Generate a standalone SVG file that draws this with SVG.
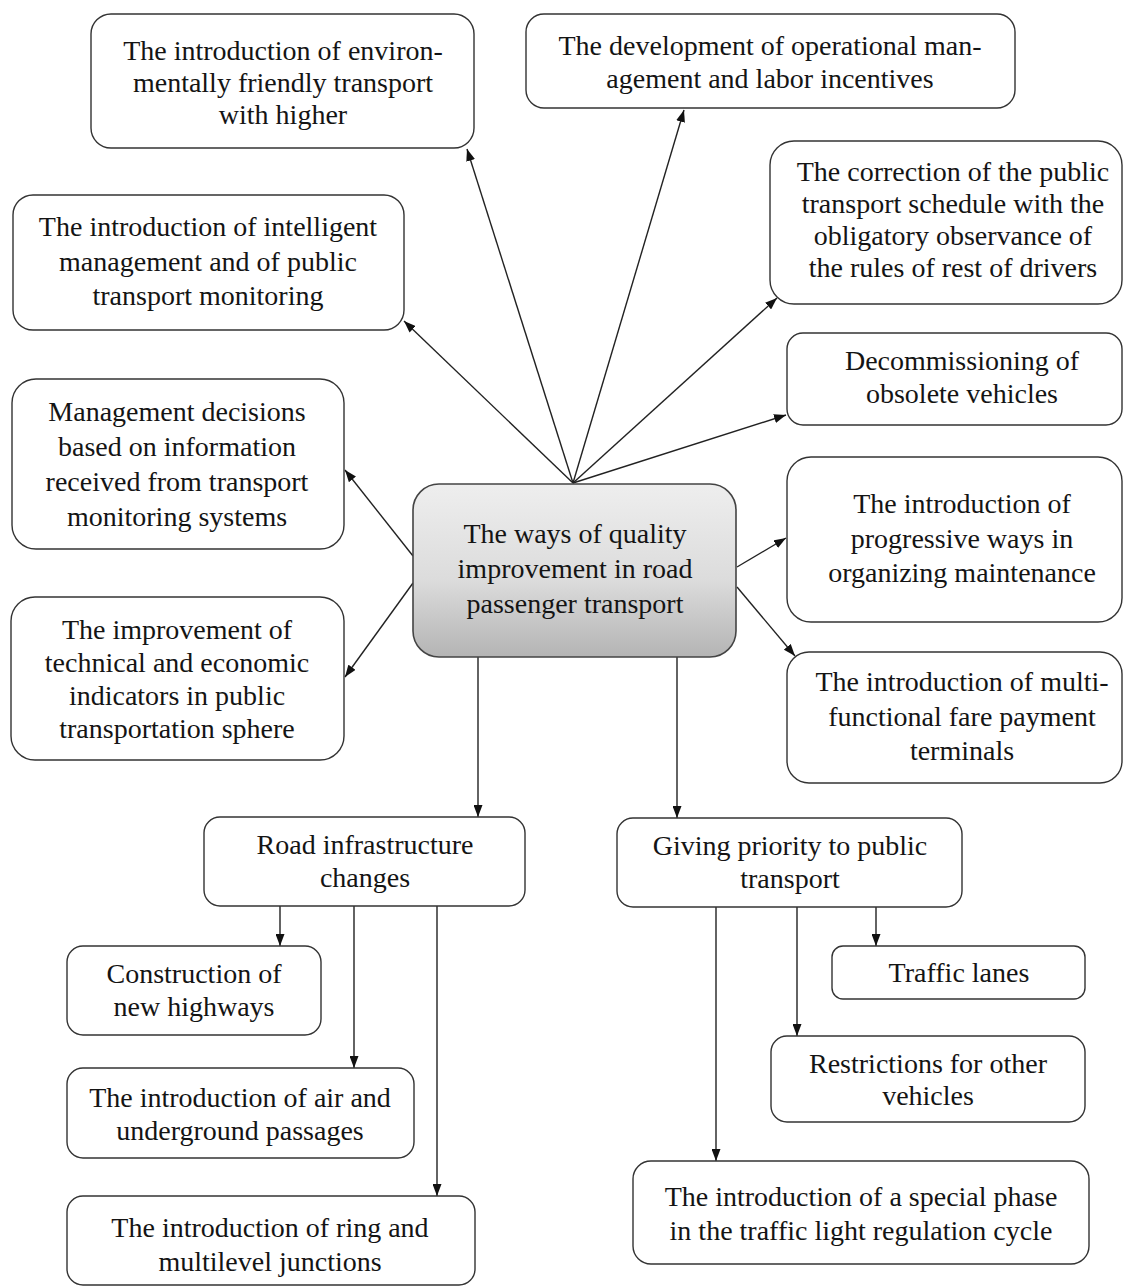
<svg xmlns="http://www.w3.org/2000/svg" width="1124" height="1288" viewBox="0 0 1124 1288">
<style>
.box{fill:#ffffff;stroke:#333333;stroke-width:1.4}
.t{font-family:"Liberation Serif","Times New Roman",serif;font-size:28px;fill:#141414;text-anchor:middle}
.c{stroke:#222222;stroke-width:1.4;fill:none;marker-end:url(#ah)}
</style>
<defs>
<marker id="ah" markerUnits="userSpaceOnUse" markerWidth="12" markerHeight="9" viewBox="0 0 12 9" refX="12" refY="4.5" orient="auto">
<path d="M0,0 L12,4.5 L0,9 z" fill="#111111"/>
</marker>
<linearGradient id="cg" x1="0" y1="0" x2="0" y2="1">
<stop offset="0" stop-color="#eeeeee"/>
<stop offset="0.55" stop-color="#dcdcdc"/>
<stop offset="1" stop-color="#b4b4b4"/>
</linearGradient>
</defs>
<rect width="1124" height="1288" fill="#ffffff"/>
<g id="connectors">
<line class="c" x1="573" y1="483" x2="467" y2="149"/>
<line class="c" x1="573" y1="483" x2="404" y2="321"/>
<line class="c" x1="573" y1="483" x2="684" y2="110"/>
<line class="c" x1="573" y1="483" x2="777" y2="298"/>
<line class="c" x1="573" y1="483" x2="786" y2="415"/>
<line class="c" x1="413" y1="556" x2="345" y2="470"/>
<line class="c" x1="413" y1="583" x2="345" y2="677"/>
<line class="c" x1="737" y1="567" x2="786" y2="538"/>
<line class="c" x1="737" y1="587" x2="795" y2="656"/>
<line class="c" x1="478" y1="657" x2="478" y2="817"/>
<line class="c" x1="677" y1="657" x2="677" y2="818"/>
<line class="c" x1="280" y1="906" x2="280" y2="946"/>
<line class="c" x1="354" y1="906" x2="354" y2="1068"/>
<line class="c" x1="437" y1="906" x2="437" y2="1196"/>
<line class="c" x1="716" y1="907" x2="716" y2="1161"/>
<line class="c" x1="797" y1="907" x2="797" y2="1036"/>
<line class="c" x1="876" y1="907" x2="876" y2="946"/>
</g>
<g id="center">
<rect x="413" y="484" width="323" height="173" rx="26" fill="url(#cg)" stroke="#444444" stroke-width="1.6"/>
<text class="t"><tspan x="575" y="543">The ways of quality</tspan><tspan x="575" y="578">improvement in road</tspan><tspan x="575" y="613">passenger transport</tspan></text>
</g>
<g id="env">
<rect class="box" x="91" y="14" width="383" height="134" rx="20"/>
<text class="t"><tspan x="283" y="60">The introduction of environ-</tspan><tspan x="283" y="92">mentally friendly transport</tspan><tspan x="283" y="124">with higher</tspan></text>
</g>
<g id="opman">
<rect class="box" x="526" y="14" width="489" height="94" rx="18"/>
<text class="t"><tspan x="770" y="55">The development of operational man-</tspan><tspan x="770" y="88">agement and labor incentives</tspan></text>
</g>
<g id="correction">
<rect class="box" x="770" y="141" width="352" height="163" rx="24"/>
<text class="t"><tspan x="953" y="181">The correction of the public</tspan><tspan x="953" y="213">transport schedule with the</tspan><tspan x="953" y="245">obligatory observance of</tspan><tspan x="953" y="277">the rules of rest of drivers</tspan></text>
</g>
<g id="decomm">
<rect class="box" x="787" y="333" width="335" height="92" rx="16"/>
<text class="t"><tspan x="962" y="370">Decommissioning of</tspan><tspan x="962" y="403">obsolete vehicles</tspan></text>
</g>
<g id="intelligent">
<rect class="box" x="13" y="195" width="391" height="135" rx="20"/>
<text class="t"><tspan x="208" y="236">The introduction of intelligent</tspan><tspan x="208" y="271">management and of public</tspan><tspan x="208" y="305">transport monitoring</tspan></text>
</g>
<g id="decisions">
<rect class="box" x="12" y="379" width="332" height="170" rx="24"/>
<text class="t"><tspan x="177" y="421">Management decisions</tspan><tspan x="177" y="456">based on information</tspan><tspan x="177" y="491">received from transport</tspan><tspan x="177" y="526">monitoring systems</tspan></text>
</g>
<g id="improvement">
<rect class="box" x="11" y="597" width="333" height="163" rx="24"/>
<text class="t"><tspan x="177" y="639">The improvement of</tspan><tspan x="177" y="672">technical and economic</tspan><tspan x="177" y="705">indicators in public</tspan><tspan x="177" y="738">transportation sphere</tspan></text>
</g>
<g id="progressive">
<rect class="box" x="787" y="457" width="335" height="165" rx="24"/>
<text class="t"><tspan x="962" y="513">The introduction of</tspan><tspan x="962" y="548">progressive ways in</tspan><tspan x="962" y="582">organizing maintenance</tspan></text>
</g>
<g id="multi">
<rect class="box" x="787" y="652" width="335" height="131" rx="22"/>
<text class="t"><tspan x="962" y="691">The introduction of multi-</tspan><tspan x="962" y="726">functional fare payment</tspan><tspan x="962" y="760">terminals</tspan></text>
</g>
<g id="road">
<rect class="box" x="204" y="817" width="321" height="89" rx="16"/>
<text class="t"><tspan x="365" y="854">Road infrastructure</tspan><tspan x="365" y="887">changes</tspan></text>
</g>
<g id="construction">
<rect class="box" x="67" y="946" width="254" height="89" rx="16"/>
<text class="t"><tspan x="194" y="983">Construction of</tspan><tspan x="194" y="1016">new highways</tspan></text>
</g>
<g id="air">
<rect class="box" x="67" y="1068" width="347" height="90" rx="16"/>
<text class="t"><tspan x="240" y="1107">The introduction of air and</tspan><tspan x="240" y="1140">underground passages</tspan></text>
</g>
<g id="ring">
<rect class="box" x="67" y="1196" width="408" height="89" rx="16"/>
<text class="t"><tspan x="270" y="1237">The introduction of ring and</tspan><tspan x="270" y="1271">multilevel junctions</tspan></text>
</g>
<g id="priority">
<rect class="box" x="617" y="818" width="345" height="89" rx="16"/>
<text class="t"><tspan x="790" y="855">Giving priority to public</tspan><tspan x="790" y="888">transport</tspan></text>
</g>
<g id="lanes">
<rect class="box" x="832" y="946" width="253" height="53" rx="11"/>
<text class="t"><tspan x="959" y="982">Traffic lanes</tspan></text>
</g>
<g id="restrictions">
<rect class="box" x="771" y="1036" width="314" height="86" rx="16"/>
<text class="t"><tspan x="928" y="1073">Restrictions for other</tspan><tspan x="928" y="1105">vehicles</tspan></text>
</g>
<g id="special">
<rect class="box" x="633" y="1161" width="456" height="103" rx="18"/>
<text class="t"><tspan x="861" y="1206">The introduction of a special phase</tspan><tspan x="861" y="1240">in the traffic light regulation cycle</tspan></text>
</g>
</svg>
